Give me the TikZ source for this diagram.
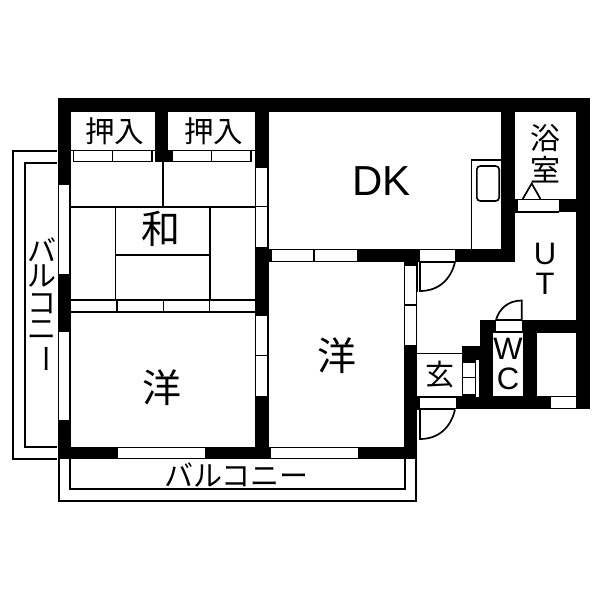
\documentclass[tikz,border=0pt]{standalone}
\usepackage{fontspec}
\setmainfont{Liberation Sans}
\newfontfamily\jp{Noto Sans CJK JP}
\tikzset{
  wall/.style={fill=black,draw=none},
  win/.style={fill=white,draw=black,line width=1.2pt},
  thin/.style={draw=black,line width=1.7pt},
  bal/.style={draw=black,line width=2pt},
  lab/.style={inner sep=0pt,text=black},
}
\newcommand{\jpl}[1]{\fontsize{#1}{#1}\jp\selectfont}
\begin{document}
\begin{tikzpicture}[x=1pt,y=-1pt]
\useasboundingbox (0,0) rectangle (600,600);
\fill[white] (0,0) rectangle (600,600);
% balconies
\draw[bal] (57,150.5) -- (13,150.5) -- (13,458.5) -- (57,458.5);
\draw[bal] (57,162.5) -- (25,162.5) -- (25,447) -- (57,447);
\draw[bal] (58.5,459) -- (58.5,500.5) -- (416,500.5) -- (416,459);
\draw[bal] (70,459) -- (70,489) -- (404.5,489) -- (404.5,459);
% outer and inner walls
\fill[wall] (57.5,98) rectangle (589.5,112);
\fill[wall] (57.5,98) rectangle (71,459);
\fill[wall] (57.5,446.5) rectangle (417,459);
\fill[wall] (155,98) rectangle (168,162);
\fill[wall] (168,150) rectangle (172,162);
\fill[wall] (255,98) rectangle (268.5,459);
\fill[wall] (268.5,249) rectangle (515,262);
\fill[wall] (501,98) rectangle (515,262);
\fill[wall] (575.7,98) rectangle (589.5,409);
\fill[wall] (515,199) rectangle (576,212);
\fill[wall] (403.7,249) rectangle (417,459);
\fill[wall] (480,319.5) rectangle (576,332.7);
\fill[wall] (480,319.5) rectangle (493.3,409);
\fill[wall] (523.3,319.5) rectangle (537.3,409);
\fill[wall] (417,396.3) rectangle (576,409);
\fill[wall] (417,396.3) rectangle (420,409.5);
\fill[wall] (462,346) rectangle (480,396.5);
% closet doors
\draw[win] (73.5,150.5) rectangle (152,161.7) (112.5,150.5) -- (112.5,161.7);
\draw[win] (172.5,150.5) rectangle (251,161.7) (211.5,150.5) -- (211.5,161.7);
\fill[wall] (71,149.5) rectangle (155,150.5);
\fill[wall] (168,149.5) rectangle (255,150.5);
% windows, left wall
\fill[white] (59,185) rectangle (69.3,274);
\fill[white] (59,331.7) rectangle (69.3,420);
% windows, wall 255
\fill[white] (256.3,168) rectangle (267,246.7);
\draw[line width=1.2pt] (256,206.7) -- (267,206.7);
\fill[white] (256.3,316) rectangle (267,396);
\draw[line width=1.2pt] (256,355.7) -- (267,355.7);
% bottom windows
\fill[white] (118.3,447.5) rectangle (205,458);
\fill[white] (271,447.5) rectangle (358,458);
% DK lower wall openings
\draw[win] (271,249.5) rectangle (358,261.5) (314,249.5) -- (314,261.5);
\fill[white] (420,249.7) rectangle (455,261);
\fill[white] (417,262) rectangle (420,292);
\draw[line width=1.2pt] (417,262) -- (417,292);
% bath door
\fill[white] (518,199.7) rectangle (559,210.7);
\draw[line width=1.2pt] (515,212) -- (559,212);
\draw[thin] (522.7,199) -- (531.7,183.5) -- (540.5,199);
% window in x 404
\fill[white] (405,266) rectangle (415.7,345);
\draw[line width=1.2pt] (405,305) -- (415.7,305);
% kitchen
\draw[line width=1.4pt] (501,160) -- (471.5,160) -- (471.5,249);
\draw[line width=1.6pt,rounded corners=3.5pt] (476.8,166) rectangle (499.2,201);
% doors
\draw[thin] (455,262) -- (420,262);
\draw[thin] (420,262) -- (420,291) .. controls (439,291) and (451,279) .. (455,262);
\draw[thin] (420,409.5) -- (420,439) .. controls (439,439) and (451,427) .. (455,409.5);
\fill[white] (420,398.3) rectangle (455.7,408.3);
\draw[thin] (420,409.3) -- (455,409.3);
\fill[white] (496,320.5) rectangle (521.7,331);
\draw[thin] (521.7,320) -- (521.7,300.5) .. controls (508,300.5) and (499,309) .. (496,320);
\draw[thin] (496,320) -- (521.7,320);
% genkan
\draw[line width=1.4pt] (417,353.3) -- (462,353.3);
\fill[white] (463.3,362.7) rectangle (475,394);
\draw[line width=1.2pt] (463.3,377.3) -- (475,377.3);
\fill[white] (476.3,360) rectangle (479.3,396.5);
% bottom window in closet
\fill[white] (550.5,397.3) rectangle (575.7,408);
% tatami
\draw[thin] (71,207) -- (255,207);
\draw[thin] (162.7,162) -- (162.7,207);
\draw[thin] (115.5,207) -- (115.5,300);
\draw[thin] (210,207) -- (210,300);
\draw[thin] (115.5,255.3) -- (210,255.3);
\draw[thin] (71,300) -- (255,300);
\draw[thin] (71,312) -- (255,312);
\draw[thin] (117,300) -- (117,312) (163.5,300) -- (163.5,312) (209.5,300) -- (209.5,312);
% labels
\node[lab,font=\jpl{29.5}] (oshiire1) at (114.5,131) {押入};
\node[lab,font=\jpl{29.5}] (oshiire2) at (213.5,131) {押入};
\node[lab,font=\jpl{39}] (wa) at (161,229) {和};
\node[lab,font=\jpl{39}] (yo1) at (162,388) {洋};
\node[lab,font=\jpl{39}] (yo2) at (337,356) {洋};
\node[lab,font=\fontsize{42}{42}\selectfont] (dk) at (381.5,181) {DK};
\node[lab,font=\jpl{29}] (gen) at (440,375) {玄};
\node[lab,font=\fontsize{31}{31}\selectfont] (w) at (508,348.5) {W};
\node[lab,font=\fontsize{31}{31}\selectfont] (c) at (508,379) {C};
\node[lab,font=\fontsize{31}{31}\selectfont] (u) at (545,254) {U};
\node[lab,font=\fontsize{31}{31}\selectfont] (t) at (545,284) {T};
\node[lab,font=\jpl{30}] (yoku) at (545,138) {浴};
\node[lab,font=\jpl{30}] (shitsu) at (545,170) {室};
\node[lab,font=\jpl{29}] (balb) at (236.5,475) {バルコニー};
\node[lab,font=\jpl{29}] (l1) at (42,250) {バ};
\node[lab,font=\jpl{29}] (l2) at (42,276) {ル};
\node[lab,font=\jpl{29}] (l3) at (42,303.5) {コ};
\node[lab,font=\jpl{29}] (l4) at (42,330) {ニ};
\node[lab,font=\jpl{29},rotate=-90] (l5) at (42,359) {ー};
\end{tikzpicture}
\end{document}
